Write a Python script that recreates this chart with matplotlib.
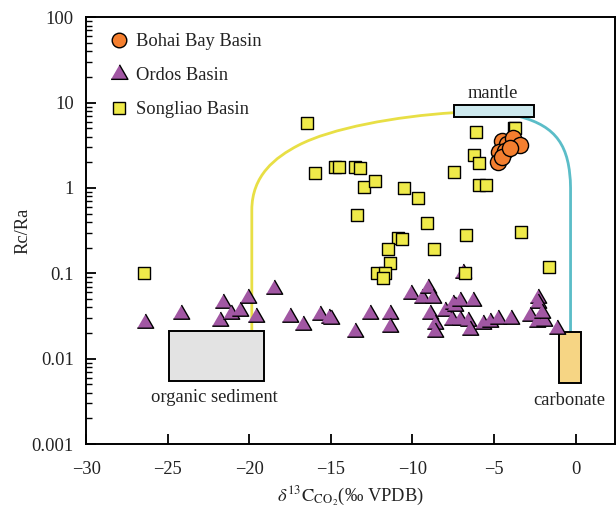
import numpy as np
import matplotlib
matplotlib.use("Agg")
import matplotlib.pyplot as plt
from matplotlib.path import Path
from matplotlib.patches import PathPatch, Rectangle
from matplotlib.lines import Line2D
from matplotlib.ticker import LogLocator, FixedLocator, FuncFormatter

plt.rcParams["font.family"] = ["Liberation Serif", "DejaVu Serif"]
plt.rcParams["mathtext.fontset"] = "stix"
plt.rcParams["axes.unicode_minus"] = True

# ---- data: delta13C of CO2 (per mil VPDB) and Rc/Ra ----
bohai_d13c = [-4.50, -4.19, -3.83, -3.41, -4.68, -4.33, -4.75, -4.54, -4.05]
bohai_rcra = [3.58, 3.27, 3.82, 3.18, 2.66, 2.73, 2.03, 2.32, 2.95]

ordos_d13c = [-26.39, -24.20, -21.60, -21.81, -21.15, -20.58, -20.07, -19.60,
              -18.48, -17.52, -16.70, -15.68, -15.11, -15.01, -13.53, -12.61,
              -11.39, -11.39, -10.12, -9.44, -9.04, -8.77, -8.93, -8.63,
              -8.63, -8.02, -7.50, -7.40, -7.09, -6.28, -7.60, -7.09,
              -6.58, -6.48, -5.67, -5.25, -4.75, -3.99, -2.80, -2.29,
              -2.29, -2.39, -1.94, -2.08, -1.13, -6.90]
ordos_rcra = [0.0259, 0.0333, 0.0445, 0.0278, 0.0333, 0.0365, 0.0517, 0.0310,
              0.0655, 0.0310, 0.0248, 0.0325, 0.0297, 0.0290, 0.0207, 0.0333,
              0.0333, 0.0233, 0.0567, 0.0509, 0.0678, 0.0509, 0.0333, 0.0255,
              0.0207, 0.0365, 0.0437, 0.0410, 0.0478, 0.0478, 0.0284, 0.0282,
              0.0278, 0.0216, 0.0255, 0.0271, 0.0289, 0.0289, 0.0316, 0.0509,
              0.0455, 0.0270, 0.0278, 0.0340, 0.0226, 0.100]

songliao_d13c = [-26.46, -16.48, -16.00, -14.76, -14.49, -13.53, -13.22, -12.99,
                 -12.29, -13.40, -10.51, -9.69, -9.08, -10.89, -10.65, -11.49,
                 -8.70, -11.37, -12.17, -11.69, -11.81, -6.80, -6.70, -7.47,
                 -6.12, -6.22, -5.90, -5.90, -5.49, -3.78, -3.69, -3.33, -1.61]
songliao_rcra = [0.100, 5.78, 1.51, 1.78, 1.78, 1.77, 1.73, 1.04,
                 1.20, 0.48, 0.99, 0.76, 0.39, 0.257, 0.250, 0.191,
                 0.191, 0.131, 0.100, 0.100, 0.089, 0.100, 0.279, 1.55,
                 4.49, 2.44, 1.95, 1.08, 1.08, 5.10, 5.00, 0.307, 0.120]

# end-member fields: (x0, x1, y0, y1)
organic_box = (-24.94, -19.11, 0.00552, 0.0213)
carbonate_box = (-1.00, 0.35, 0.00514, 0.0206)
mantle_box = (-7.47, -2.58, 6.86, 9.31)

# mixing curves (anchor / control points of piecewise cubic Bezier paths)
organic_curve_x = [-19.85, -19.85, -19.85, -18.40, -17.00, -15.00, -11.00, -7.47]
organic_curve_y = [0.0213, 0.55, 1.41, 2.29, 3.16, 5.01, 6.92, 7.62]
organic_curve_codes = [Path.MOVETO, Path.LINETO,
                       Path.CURVE4, Path.CURVE4, Path.CURVE4,
                       Path.CURVE4, Path.CURVE4, Path.CURVE4]
carbonate_curve_x = [-3.40, -1.20, -0.35, -0.31, -0.31]
carbonate_curve_y = [6.84, 5.25, 3.16, 1.0, 0.0206]
carbonate_curve_codes = [Path.MOVETO, Path.CURVE4, Path.CURVE4, Path.CURVE4, Path.LINETO]

x_ticks = [-30, -25, -20, -15, -10, -5, 0]
y_ticks = [0.001, 0.01, 0.1, 1, 10, 100]
y_tick_labels = ["0.001", "0.01", "0.1", "1", "10", "100"]

# ---- figure ----
fig = plt.figure(figsize=(6.16, 5.07), dpi=100)
ax = fig.add_axes([0.140, 0.124, 0.858, 0.842])
ax.set_yscale("log")
ax.set_xlim(-30, 2.4)
ax.set_ylim(0.001, 100)

fs = 13.3
edge_lw = 1.0
text_c = "#222222"

def draw_box(b, color):
    ax.add_patch(Rectangle((b[0], b[2]), b[1] - b[0], b[3] - b[2],
                           facecolor=color, edgecolor="black", linewidth=1.4, zorder=2))

draw_box(organic_box, "#e3e3e3")
draw_box(carbonate_box, "#f6d584")
draw_box(mantle_box, "#cde9ee")

ax.add_patch(PathPatch(Path(np.column_stack([organic_curve_x, organic_curve_y]), organic_curve_codes),
                       facecolor="none", edgecolor="#e8df45", linewidth=2.0, zorder=1))
ax.add_patch(PathPatch(Path(np.column_stack([carbonate_curve_x, carbonate_curve_y]), carbonate_curve_codes),
                       facecolor="none", edgecolor="#5bbdc8", linewidth=2.0, zorder=1))

tri = [(-1.0, -0.577), (1.0, -0.577), (0.0, 1.155)]

ax.scatter(ordos_d13c, ordos_rcra, marker=tri, s=185, facecolor="#a157a3",
           edgecolor="black", linewidth=edge_lw, zorder=3)
ax.scatter(songliao_d13c, songliao_rcra, marker="s", s=85, facecolor="#efea4a",
           edgecolor="black", linewidth=edge_lw, zorder=4)
ax.scatter(bohai_d13c, bohai_rcra, marker="o", s=135, facecolor="#f47f2f",
           edgecolor="black", linewidth=edge_lw, zorder=5)

ax.text(-22.17, 0.00355, "organic sediment", ha="center", va="center", fontsize=fs, color=text_c)
ax.text(-0.36, 0.00325, "carbonate", ha="center", va="center", fontsize=fs, color=text_c)
ax.text(-5.06, 12.9, "mantle", ha="center", va="center", fontsize=fs, color=text_c)

handles = [
    Line2D([], [], linestyle="none", marker="o", markersize=10.5, markerfacecolor="#f47f2f",
           markeredgecolor="black", markeredgewidth=edge_lw),
    Line2D([], [], linestyle="none", marker=tri, markersize=14, markerfacecolor="#a157a3",
           markeredgecolor="black", markeredgewidth=edge_lw),
    Line2D([], [], linestyle="none", marker="s", markersize=8.5, markerfacecolor="#efea4a",
           markeredgecolor="black", markeredgewidth=edge_lw),
]
leg = ax.legend(handles, ["Bohai Bay Basin", "Ordos Basin", "Songliao Basin"], loc="upper left",
                bbox_to_anchor=(0.009, 1.006), frameon=False, fontsize=fs, handlelength=1.0,
                handletextpad=0.45, labelspacing=0.92, borderaxespad=0.6)
for t in leg.get_texts():
    t.set_color(text_c)

ax.xaxis.set_major_locator(FixedLocator(x_ticks))
ax.set_xticklabels([("\u2212%d" % -v) if v < 0 else "%d" % v for v in x_ticks])
ax.yaxis.set_major_locator(FixedLocator(y_ticks))
ax.set_yticklabels(y_tick_labels)
ax.yaxis.set_minor_locator(LogLocator(base=10, subs=np.arange(2, 10), numticks=20))
ax.yaxis.set_minor_formatter(FuncFormatter(lambda v, p: ""))

ax.tick_params(axis="both", which="major", direction="in", length=7, width=1.3,
               labelsize=fs, colors="black", labelcolor=text_c,
               top=False, right=False)
ax.tick_params(axis="x", which="major", pad=12)
ax.tick_params(axis="y", which="major", pad=9)
ax.tick_params(axis="y", which="minor", direction="in", length=4, width=1.0, right=False)
for sp in ax.spines.values():
    sp.set_linewidth(1.4)

ax.set_ylabel("Rc/Ra", fontsize=fs, color=text_c, labelpad=0)
ax.set_xlabel(r"$\delta^{13}\mathrm{C}_{\mathrm{CO}_2}$(‰ VPDB)", fontsize=fs, color=text_c, labelpad=5)

fig.savefig("out.png", dpi=100)
